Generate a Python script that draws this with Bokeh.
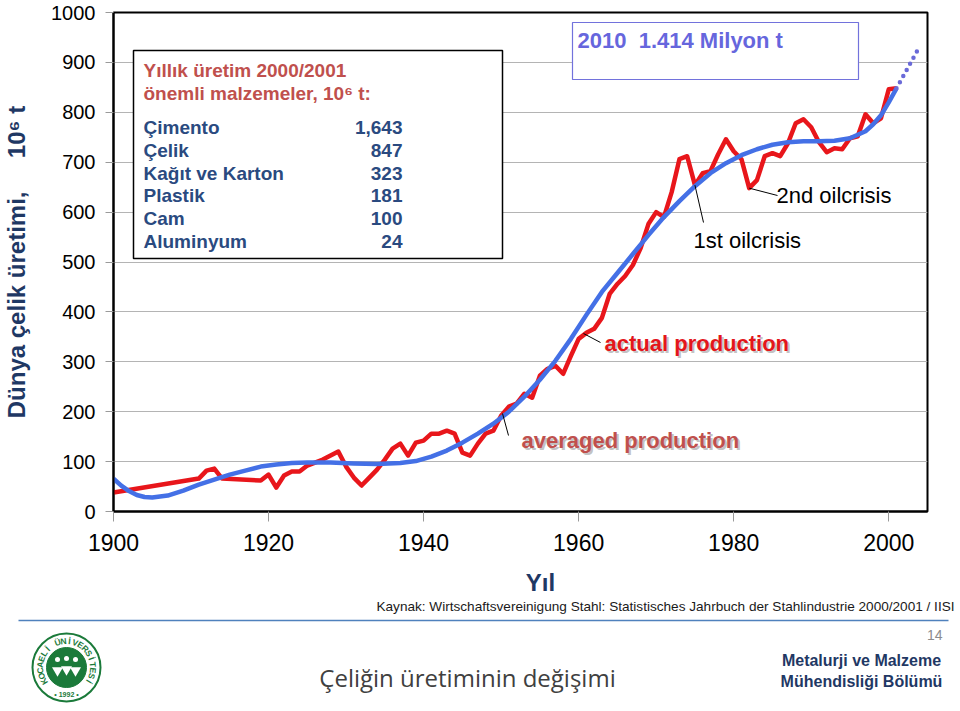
import numpy as np
from bokeh.plotting import figure
from bokeh.layouts import column
from bokeh.models import Label, BoxAnnotation, FixedTicker
from bokeh.core.properties import value
from bokeh.embed import file_html
from bokeh.resources import INLINE

# ---------------- data ----------------
actual_years = [1900, 1911, 1912, 1913, 1914, 1919, 1920, 1921, 1922, 1923, 1924, 1925,
                1926, 1927, 1928, 1929, 1930, 1931, 1932, 1933, 1934, 1935, 1936, 1937,
                1938, 1939, 1940, 1941, 1942, 1943, 1944, 1945, 1946, 1947, 1948, 1949,
                1950, 1951, 1952, 1953, 1954, 1955, 1956, 1957, 1958, 1959, 1960, 1961,
                1962, 1963, 1964, 1965, 1966, 1967, 1968, 1969, 1970, 1971, 1972, 1973,
                1974, 1975, 1976, 1977, 1978, 1979, 1980, 1981, 1982, 1983, 1984, 1985,
                1986, 1987, 1988, 1989, 1990, 1991, 1992, 1993, 1994, 1995, 1996, 1997,
                1998, 1999, 2000, 2001]
actual_values = [38, 66, 82, 86, 66, 62, 74, 48, 72, 80, 80, 92,
                 98, 104, 112, 120, 90, 68, 52, 68, 84, 104, 126, 136,
                 112, 138, 142, 156, 156, 162, 156, 118, 112, 136, 156, 162,
                 192, 210, 216, 236, 228, 272, 286, 292, 276, 312, 346, 358,
                 366, 388, 436, 456, 472, 494, 528, 576, 600, 590, 640, 706,
                 712, 654, 678, 682, 716, 746, 722, 706, 648, 664, 712, 718,
                 712, 738, 778, 786, 770, 740, 720, 728, 726, 748, 752, 796,
                 778, 788, 846, 848]

avg_years = [1900, 1901, 1902, 1903, 1904, 1905, 1907, 1909, 1911, 1913, 1915, 1917,
             1919, 1921, 1923, 1925, 1928, 1931, 1934, 1937, 1939, 1941, 1943, 1945,
             1947, 1949, 1951, 1953, 1955, 1957, 1959, 1961, 1963, 1965, 1967, 1969,
             1971, 1973, 1975, 1977, 1979, 1981, 1983, 1985, 1987, 1989, 1991, 1993,
             1995, 1997, 1998, 1999, 2000, 2001]
avg_values = [66, 52, 41, 33, 29, 28, 32, 42, 54, 64, 74, 82,
              90, 94, 97, 98, 98, 96, 95, 97, 101, 110, 122, 138,
              156, 176, 200, 230, 264, 302, 346, 394, 440, 478, 516, 554,
              590, 622, 652, 678, 698, 714, 726, 735, 740, 742, 742, 743,
              748, 762, 776, 794, 820, 848]

trend_years = [2001, 2004]
trend_values = [848, 932]

x_ticks = [1900, 1920, 1940, 1960, 1980, 2000]
y_ticks = [0, 100, 200, 300, 400, 500, 600, 700, 800, 900, 1000]

materials = ["Çimento", "Çelik", "Kağıt ve Karton", "Plastik", "Cam", "Aluminyum"]
material_values = ["1,643", "847", "323", "181", "100", "24"]

NB = "\u00a0"

# ---------------- geometry (screen px) ----------------
W, H_TOP = 960, 560
FL, FR, FT, FB = 113, 927, 12, 511
X0, X1 = 1900, 2005
Y0, Y1 = 0, 1000


def dx(px):
    return X0 + (px - FL) * (X1 - X0) / (FR - FL)


def dy(py):
    return Y0 + (FB - py) * (Y1 - Y0) / (FB - FT)


p = figure(width=W, height=H_TOP, x_range=(X0, X1), y_range=(Y0, Y1),
           output_backend="svg", toolbar_location=None,
           min_border_left=FL, min_border_right=W - FR,
           min_border_top=FT, min_border_bottom=H_TOP - FB,
           frame_align=False)
p.background_fill_color = "white"
p.border_fill_color = "white"
p.outline_line_color = "black"
p.outline_line_width = 2

p.xgrid.grid_line_color = None
p.ygrid.grid_line_color = "#b4b4b4"
p.ygrid.grid_line_width = 1

for ax in (p.xaxis[0], p.yaxis[0]):
    ax.axis_line_color = "black"
    ax.axis_line_width = 2
    ax.major_tick_line_color = "#9a9a9a"
    ax.major_tick_line_width = 1
    ax.major_tick_in = 0
    ax.minor_tick_line_color = None
    ax.major_label_text_font = "Liberation Sans"
    ax.major_label_text_color = "black"

p.xaxis.ticker = FixedTicker(ticks=x_ticks)
p.yaxis.ticker = FixedTicker(ticks=y_ticks)
p.xaxis.major_tick_out = 10
p.yaxis.major_tick_out = 8
p.xaxis.major_label_text_font_size = "23px"
p.yaxis.major_label_text_font_size = "20px"
p.xaxis.major_label_standoff = 12
p.yaxis.major_label_standoff = 10

p.yaxis.axis_label = "Dünya çelik üretimi," + NB * 5 + "10⁶ t"
p.yaxis.axis_label_text_font = "Liberation Sans"
p.yaxis.axis_label_text_font_style = "bold"
p.yaxis.axis_label_text_font_size = "24px"
p.yaxis.axis_label_text_color = "#1f3864"
p.yaxis.axis_label_standoff = 18

# ---------------- series ----------------
p.line(actual_years, actual_values, line_color="#e8161b", line_width=4.5, line_join="round")
p.line(avg_years, avg_values, line_color="#4470e6", line_width=4.5, line_join="round")
p.line(trend_years, trend_values, line_color="#6a6ad8", line_width=4.5,
       line_dash="0 7", line_cap="round")

i75 = actual_years.index(1975)
i82 = actual_years.index(1982)
p.segment(x0=[actual_years[i75], actual_years[i82], dx(583), dx(502)],
          y0=[actual_values[i75], actual_values[i82], dy(333), dy(413)],
          x1=[dx(703), dx(777), dx(600), dx(508)],
          y1=[dy(222), dy(195), dy(342), dy(435)],
          line_color="black", line_width=1)


def txt(text, px, py, size, color="black", bold=False, align="left",
        baseline="middle", font="Liberation Sans", angle=0.0, alpha=1.0):
    p.add_layout(Label(x=dx(px), y=dy(py), text=text, text_font=font,
                       text_font_size=f"{size}px", text_color=color,
                       text_font_style="bold" if bold else "normal",
                       text_align=align, text_baseline=baseline, angle=angle,
                       text_alpha=alpha))


p.add_layout(BoxAnnotation(left=dx(133), right=dx(502), top=dy(50), bottom=dy(258),
                           fill_color="white", fill_alpha=1.0,
                           line_color="black", line_width=1.5, line_alpha=1.0))
p.add_layout(BoxAnnotation(left=dx(572), right=dx(858), top=dy(22), bottom=dy(79),
                           fill_color="white", fill_alpha=1.0,
                           line_color="#7272dc", line_width=1.2, line_alpha=1.0))

txt("Yıllık üretim 2000/2001", 143, 70, 19, "#c0504d", bold=True)
txt("önemli malzemeler, 10⁶ t:", 143, 93, 19, "#c0504d", bold=True)
for k, (m, v) in enumerate(zip(materials, material_values)):
    yy = 127 + k * 22.8
    txt(m, 143, yy, 19, "#2a4a80", bold=True)
    txt(v, 402, yy, 19, "#2a4a80", bold=True, align="right")

txt("2010" + NB * 2 + "1.414 Milyon t", 577, 40, 22, "#6666dd", bold=True)

txt("2nd oilcrisis", 776, 195, 22)
txt("1st oilcrisis", 693, 240, 22)
txt("actual production", 606, 345, 22, "#9a9a9a", bold=True, alpha=0.6)
txt("actual production", 604, 343, 22, "#e3161b", bold=True)
txt("averaged production", 523, 442, 22, "#9a9a9a", bold=True, alpha=0.6)
txt("averaged production", 521, 440, 22, "#c0504d", bold=True)

# ---------------- footer (screen-pixel coordinates) ----------------
H_BOT = 711 - H_TOP
f = figure(width=W, height=H_BOT, x_range=(0, W), y_range=(711, H_TOP),
           x_axis_type=None, y_axis_type=None, output_backend="svg",
           toolbar_location=None, min_border=0, frame_align=False)
f.outline_line_color = None
f.background_fill_color = "white"
f.border_fill_color = "white"


def ftxt(text, x, y, size, color="black", bold=False, align="left",
         font="Liberation Sans", angle=0.0):
    f.text(x=[x], y=[y], text=[text], text_font=value(font),
           text_font_size=value(f"{size}px"), text_color=color,
           text_font_style="bold" if bold else "normal",
           text_align=align, text_baseline="middle", angle=angle)


ftxt("Yıl", 540, 582, 24, "#1f3864", bold=True, align="center")
ftxt("Kaynak: Wirtschaftsvereinigung Stahl: Statistisches Jahrbuch der Stahlindustrie 2000/2001 / IISI",
     954, 606, 13.6, "#1a1a1a", align="right")
f.segment(x0=[18], y0=[620], x1=[948], y1=[620], line_color="#4f81bd", line_width=1.5)
ftxt("14", 942, 634, 14, "#8c8c8c", align="right")
ftxt("Çeliğin üretiminin değişimi", 467, 677, 24, "#404040", align="center", font="Open Sans")
ftxt("Metalurji ve Malzeme", 861, 660, 16, "#1f3864", bold=True, align="center")
ftxt("Mühendisliği Bölümü", 861, 681, 16, "#1f3864", bold=True, align="center")

# logo emblem
cx, cy = 66, 667
green = "#1b7a3a"
f.scatter(x=[cx], y=[cy], marker="circle", size=68, fill_color="white",
          line_color=green, line_width=2)
f.scatter(x=[cx], y=[cy], marker="circle", size=40, fill_color=green,
          line_color=green, line_width=1)
ring = "KOCAELİ ÜNİVERSİTESİ"
angles = np.linspace(np.radians(212), np.radians(-32), len(ring))
r = 26.5
f.text(x=list(cx + r * np.cos(angles)), y=list(cy - r * np.sin(angles)),
       text=list(ring), angle=list(angles - np.pi / 2),
       text_font=value("Liberation Sans"), text_font_size=value("8.5px"),
       text_font_style="bold", text_color=green,
       text_align="center", text_baseline="middle")
ftxt("• 1992 •", cx, cy + 27, 7, green, bold=True, align="center")
f.scatter(x=[cx - 9, cx, cx + 9], y=[cy - 8, cy - 9, cy - 8], marker="circle",
          size=5, fill_color="white", line_color=None)
f.scatter(x=[cx - 9, cx, cx + 9], y=[cy + 3, cy + 2, cy + 3], marker="triangle",
          size=11, fill_color="white", line_color=None, angle=np.pi)

layout = column(p, f, spacing=0)
open("out.html", "w").write(file_html(layout, INLINE))
